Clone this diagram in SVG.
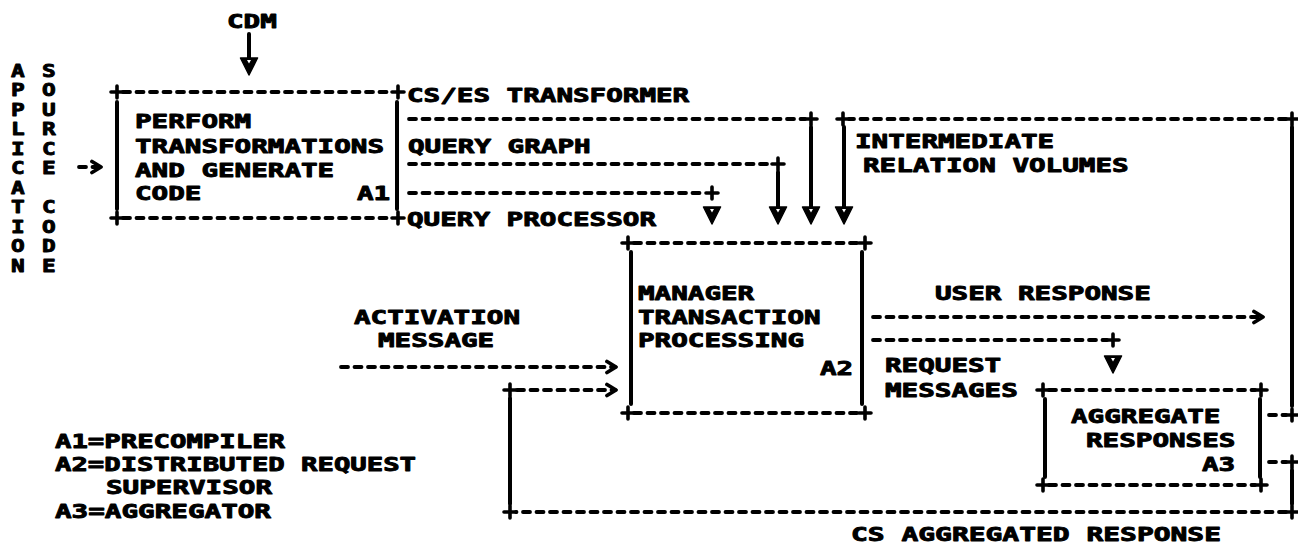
<svg xmlns="http://www.w3.org/2000/svg" xmlns:xlink="http://www.w3.org/1999/xlink" width="1298" height="554" viewBox="0 0 1298 554">
  <style>
    .t { font-family: "DejaVu Sans Mono", "Liberation Mono", monospace; font-weight: bold; font-size: 19px; fill: #000; stroke: #000; stroke-width: 0.9px; stroke-linejoin: round; }
    .v { font-family: "DejaVu Sans Mono", "Liberation Mono", monospace; font-weight: bold; font-size: 17.5px; fill: #000; stroke: #000; stroke-width: 0.9px; stroke-linejoin: round; }
    .dash { fill: none; stroke: #000; stroke-width: 3.8; stroke-dasharray: 7 6.5; stroke-linecap: round; }
    .solid { fill: none; stroke: #000; stroke-width: 4; stroke-linecap: round; }
    .plus { fill: none; stroke: #000; stroke-width: 3.6; stroke-linecap: round; }
  </style>
  <defs>
    <path id="plus" class="plus" d="M-6,0H6M0,-6V6"/>
    <!-- open chevron at the end of dashed arrows -->
    <marker id="chev" viewBox="-12 -8 16 16" markerWidth="16" markerHeight="16" refX="0" refY="0" orient="auto" markerUnits="userSpaceOnUse">
      <path d="M-8,-5.5 L1,0 L-8,5.5" fill="none" stroke="#000" stroke-width="3.8" stroke-linecap="round" stroke-linejoin="round"/>
    </marker>
    <!-- heavy V head at the end of vertical arrows -->
    <marker id="vhead" viewBox="-14 -10 20 20" markerWidth="20" markerHeight="20" refX="0" refY="0" orient="auto" markerUnits="userSpaceOnUse">
      <polygon points="-12,-8.5 -12,8.5 5,0" fill="#000" stroke="#000" stroke-width="1.5" stroke-linejoin="round"/>
      <polygon points="-10,-2 -10,2 -6.5,0" fill="#fff"/>
    </marker>
  </defs>
  <rect width="1298" height="554" fill="#fff"/>

  <!-- external input: application source code, typed down the page -->
  <g id="app-source">
    <text class="v" transform="translate(11,0) scale(1.3,1)">
      <tspan x="0" y="77">A</tspan><tspan x="0" y="96.5">P</tspan><tspan x="0" y="116">P</tspan><tspan x="0" y="135.5">L</tspan><tspan x="0" y="155">I</tspan><tspan x="0" y="174.5">C</tspan><tspan x="0" y="194">A</tspan><tspan x="0" y="213.5">T</tspan><tspan x="0" y="233">I</tspan><tspan x="0" y="252.5">O</tspan><tspan x="0" y="272">N</tspan>
    </text>
    <text class="v" transform="translate(42,0) scale(1.3,1)">
      <tspan x="0" y="77">S</tspan><tspan x="0" y="96.5">O</tspan><tspan x="0" y="116">U</tspan><tspan x="0" y="135.5">R</tspan><tspan x="0" y="155">C</tspan><tspan x="0" y="174.5">E</tspan><tspan x="0" y="213.5">C</tspan><tspan x="0" y="233">O</tspan><tspan x="0" y="252.5">D</tspan><tspan x="0" y="272">E</tspan>
    </text>
  </g>

  <g id="cdm">
    <text class="t" x="227" y="28" textLength="49.8" lengthAdjust="spacingAndGlyphs">CDM</text>
  </g>

  <!-- A1: precompiler -->
  <g id="a1">
    <path class="dash" d="M123,92H392M123,218H392"/>
    <path class="solid" d="M117,102V209M397,102V209"/>
    <use xlink:href="#plus" x="117" y="92"/>
    <use xlink:href="#plus" x="398" y="92"/>
    <use xlink:href="#plus" x="117" y="218"/>
    <use xlink:href="#plus" x="398" y="218"/>
    <text class="t" x="135" y="128" textLength="116.2" lengthAdjust="spacingAndGlyphs">PERFORM</text>
    <text class="t" x="135" y="153" textLength="249" lengthAdjust="spacingAndGlyphs">TRANSFORMATIONS</text>
    <text class="t" x="135" y="177" textLength="199.2" lengthAdjust="spacingAndGlyphs">AND GENERATE</text>
    <text class="t" x="135" y="200" textLength="66.4" lengthAdjust="spacingAndGlyphs">CODE</text>
    <text class="t" x="357" y="200" textLength="33.2" lengthAdjust="spacingAndGlyphs">A1</text>
  </g>

  <!-- A2: distributed request supervisor -->
  <g id="a2">
    <path class="dash" d="M634,243H859M634,413H859"/>
    <path class="solid" d="M631,252V404M862,252V404"/>
    <use xlink:href="#plus" x="628" y="243"/>
    <use xlink:href="#plus" x="865" y="243"/>
    <use xlink:href="#plus" x="628" y="413"/>
    <use xlink:href="#plus" x="865" y="413"/>
    <text class="t" x="638" y="300" textLength="116.2" lengthAdjust="spacingAndGlyphs">MANAGER</text>
    <text class="t" x="638" y="324" textLength="182.6" lengthAdjust="spacingAndGlyphs">TRANSACTION</text>
    <text class="t" x="638" y="347" textLength="166" lengthAdjust="spacingAndGlyphs">PROCESSING</text>
    <text class="t" x="820" y="375" textLength="33.2" lengthAdjust="spacingAndGlyphs">A2</text>
  </g>

  <!-- A3: aggregator -->
  <g id="a3">
    <path class="dash" d="M1049,390H1255M1049,485H1255"/>
    <path class="solid" d="M1045,399V477M1260,399V477"/>
    <use xlink:href="#plus" x="1043" y="390"/>
    <use xlink:href="#plus" x="1261" y="390"/>
    <use xlink:href="#plus" x="1043" y="485"/>
    <use xlink:href="#plus" x="1261" y="485"/>
    <text class="t" x="1071" y="423" textLength="149.4" lengthAdjust="spacingAndGlyphs">AGGREGATE</text>
    <text class="t" x="1086" y="447" textLength="149.4" lengthAdjust="spacingAndGlyphs">RESPONSES</text>
    <text class="t" x="1202" y="471" textLength="33.2" lengthAdjust="spacingAndGlyphs">A3</text>
  </g>

  <!-- flows between the functions -->
  <g id="connectors">
    <path class="solid" d="M249,34V70" marker-end="url(#vhead)"/>
    <path class="dash" d="M79,167H100" marker-end="url(#chev)"/>

    <path class="dash" d="M409,119H805"/>
    <use xlink:href="#plus" x="811" y="119"/>
    <path class="solid" d="M811,127V219" marker-end="url(#vhead)"/>

    <path class="dash" d="M409,164H772"/>
    <use xlink:href="#plus" x="778" y="164"/>
    <path class="solid" d="M778,172V219" marker-end="url(#vhead)"/>

    <path class="dash" d="M409,193H706"/>
    <use xlink:href="#plus" x="712" y="193"/>
    <path class="solid" d="M712,209V219" marker-end="url(#vhead)"/>

    <path class="dash" d="M1269,415H1286"/>
    <use xlink:href="#plus" x="1292" y="415"/>
    <path class="solid" d="M1292,406V127"/>
    <use xlink:href="#plus" x="1292" y="119"/>
    <path class="dash" d="M1286,119H849"/>
    <use xlink:href="#plus" x="843" y="119"/>
    <path class="solid" d="M844,127V219" marker-end="url(#vhead)"/>

    <path class="dash" d="M873,317H1262" marker-end="url(#chev)"/>

    <path class="dash" d="M873,340H1107"/>
    <use xlink:href="#plus" x="1113" y="340"/>
    <path class="solid" d="M1113,358V368" marker-end="url(#vhead)"/>

    <path class="dash" d="M1269,462H1286"/>
    <use xlink:href="#plus" x="1292" y="462"/>
    <path class="solid" d="M1292,470V504"/>
    <use xlink:href="#plus" x="1292" y="512"/>
    <path class="dash" d="M1286,512H516"/>
    <use xlink:href="#plus" x="510" y="512"/>
    <path class="solid" d="M510,504V398"/>
    <use xlink:href="#plus" x="510" y="390"/>
    <path class="dash" d="M517,390H615" marker-end="url(#chev)"/>

    <path class="dash" d="M341,367H615" marker-end="url(#chev)"/>
  </g>

  <!-- flow labels -->
  <g id="labels">
    <text class="t" x="407" y="102" textLength="282.2" lengthAdjust="spacingAndGlyphs">CS/ES TRANSFORMER</text>
    <text class="t" x="408" y="153" textLength="182.6" lengthAdjust="spacingAndGlyphs">QUERY GRAPH</text>
    <text class="t" x="407" y="226" textLength="249" lengthAdjust="spacingAndGlyphs">QUERY PROCESSOR</text>
    <text class="t" x="855" y="148" textLength="199.2" lengthAdjust="spacingAndGlyphs">INTERMEDIATE</text>
    <text class="t" x="863" y="172" textLength="265.6" lengthAdjust="spacingAndGlyphs">RELATION VOLUMES</text>
    <text class="t" x="354" y="324" textLength="166" lengthAdjust="spacingAndGlyphs">ACTIVATION</text>
    <text class="t" x="378" y="347" textLength="116.2" lengthAdjust="spacingAndGlyphs">MESSAGE</text>
    <text class="t" x="935" y="300" textLength="215.8" lengthAdjust="spacingAndGlyphs">USER RESPONSE</text>
    <text class="t" x="885" y="372" textLength="116.2" lengthAdjust="spacingAndGlyphs">REQUEST</text>
    <text class="t" x="885" y="397" textLength="132.8" lengthAdjust="spacingAndGlyphs">MESSAGES</text>
    <text class="t" x="851" y="541" textLength="370" lengthAdjust="spacingAndGlyphs">CS AGGREGATED RESPONSE</text>
  </g>

  <!-- key to the function numbers -->
  <g id="legend">
    <text class="t" x="55" y="448" textLength="230" lengthAdjust="spacingAndGlyphs">A1=PRECOMPILER</text>
    <text class="t" x="55" y="471" textLength="361" lengthAdjust="spacingAndGlyphs">A2=DISTRIBUTED REQUEST</text>
    <text class="t" x="106" y="494" textLength="166" lengthAdjust="spacingAndGlyphs">SUPERVISOR</text>
    <text class="t" x="55" y="518" textLength="216" lengthAdjust="spacingAndGlyphs">A3=AGGREGATOR</text>
  </g>
</svg>
